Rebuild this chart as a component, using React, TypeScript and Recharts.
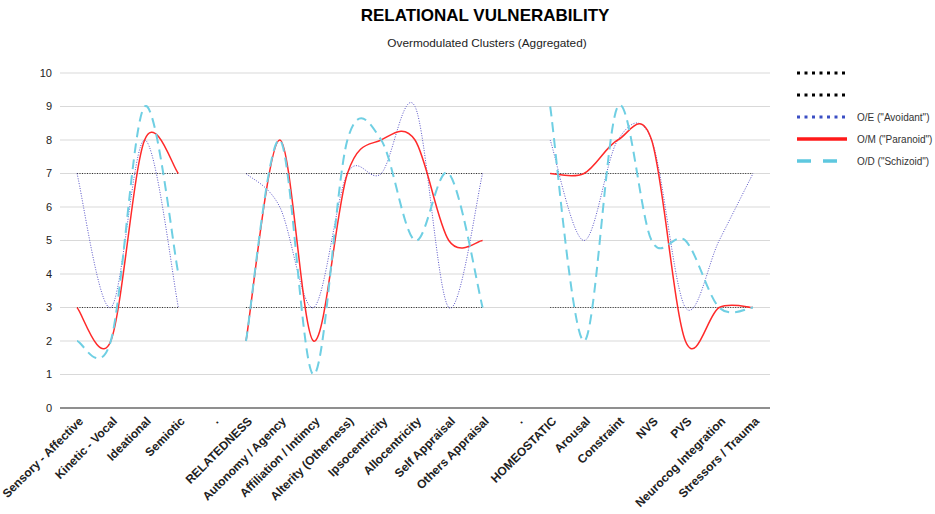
import React from 'react';
import { LineChart, Line, XAxis, YAxis, CartesianGrid, Legend } from 'recharts';

const categories = [
  'Sensory - Affective', 'Kinetic - Vocal', 'Ideational', 'Semiotic', '.',
  'RELATEDNESS', 'Autonomy / Agency', 'Affiliation / Intimcy', 'Alterity (Otherness)',
  'Ipsocentricity', 'Allocentricity', 'Self Appraisal', 'Others Appraisal', '.',
  'HOMEOSTATIC', 'Arousal', 'Constraint', 'NVS', 'PVS', 'Neurocog Integration', 'Stressors / Trauma',
];

const guideHigh = [7, 7, 7, 7, null, 7, 7, 7, 7, 7, 7, 7, 7, null, 7, 7, 7, 7, 7, 7, 7];
const guideLow = [3, 3, 3, 3, null, 3, 3, 3, 3, 3, 3, 3, 3, null, 3, 3, 3, 3, 3, 3, 3];
const avoidant = [7, 3, 8, 3, null, 7, 6, 3, 7, 7, 9, 3, 7, null, 8, 5, 8, 8, 3, 5, 7];
const paranoid = [3, 2, 8, 7, null, 2, 8, 2, 7, 8, 8, 5, 5, null, 7, 7, 8, 8, 2, 3, 3];
const schizoid = [2, 2, 9, 4, null, 2, 8, 1, 8, 8, 5, 7, 3, null, 9, 2, 9, 5, 5, 3, 3];

const yTicks = [0, 1, 2, 3, 4, 5, 6, 7, 8, 9, 10];

const data = categories.map((name, i) => ({
  name,
  hi: guideHigh[i],
  lo: guideLow[i],
  oe: avoidant[i],
  om: paranoid[i],
  od: schizoid[i],
}));

// smooth curve through the points (catmull-rom), like the sheet's "smooth" lines
const smooth: any = (context: any) => {
  let pts: number[][] = [];
  return {
    areaStart() {},
    areaEnd() {},
    lineStart() { pts = []; },
    point(x: number, y: number) { pts.push([x, y]); },
    lineEnd() {
      if (!pts.length) return;
      context.moveTo(pts[0][0], pts[0][1]);
      for (let i = 0; i < pts.length - 1; i++) {
        const p0 = pts[i - 1] || pts[i];
        const p1 = pts[i];
        const p2 = pts[i + 1];
        const p3 = pts[i + 2] || p2;
        context.bezierCurveTo(
          p1[0] + (p2[0] - p0[0]) / 6, p1[1] + (p2[1] - p0[1]) / 6,
          p2[0] - (p3[0] - p1[0]) / 6, p2[1] - (p3[1] - p1[1]) / 6,
          p2[0], p2[1],
        );
      }
    },
  };
};

const legendItems = [
  { key: 'hi', label: '', color: '#000', width: 3, dash: '3 4.5' },
  { key: 'lo', label: '', color: '#000', width: 3, dash: '3 4.5' },
  { key: 'oe', label: 'O/E ("Avoidant")', color: '#3b4fc4', width: 3, dash: '3 4.5' },
  { key: 'om', label: 'O/M ("Paranoid")', color: '#ff1a1a', width: 3.5, dash: undefined },
  { key: 'od', label: 'O/D ("Schizoid")', color: '#5ec8df', width: 3.5, dash: '14 12' },
];

const LegendBox = () => (
  <div style={{ fontFamily: 'Liberation Sans, Arial, sans-serif', fontSize: 10, color: '#333' }}>
    {legendItems.map((it) => (
      <div key={it.key} style={{ display: 'flex', alignItems: 'center', height: 22 }}>
        <svg width={56} height={8} style={{ marginRight: 6 }}>
          <line x1={2} y1={4} x2={52} y2={4} stroke={it.color} strokeWidth={it.width} strokeDasharray={it.dash} />
        </svg>
        <span>{it.label}</span>
      </div>
    ))}
  </div>
);

const XTick = (props: any) => {
  const { x, y, payload } = props;
  return (
    <g transform={`translate(${x + 4},${y + 3}) rotate(-45)`}>
      <text textAnchor="end" dy="0.35em" fontSize={12} fontWeight="bold" fill="#222"
        fontFamily="Liberation Sans, Arial, sans-serif">
        {payload.value}
      </text>
    </g>
  );
};

export default function App() {
  return (
    <div style={{ position: 'absolute', left: 0, top: 0, width: 935, height: 514, background: '#fff' }}>
      <div style={{ position: 'absolute', left: 485, top: 6, transform: 'translateX(-50%)', whiteSpace: 'nowrap',
        fontFamily: 'Liberation Sans, Arial, sans-serif', fontWeight: 'bold', fontSize: 17, color: '#000' }}>
        RELATIONAL VULNERABILITY
      </div>
      <div style={{ position: 'absolute', left: 487, top: 36, transform: 'translateX(-50%)', whiteSpace: 'nowrap',
        fontFamily: 'Liberation Sans, Arial, sans-serif', fontSize: 11.8, color: '#222' }}>
        Overmodulated Clusters (Aggregated)
      </div>
      <LineChart width={935} height={514} data={data} margin={{ top: 73, right: 25, left: 0, bottom: 6 }}>
        <CartesianGrid vertical={false} stroke="#d9d9d9" />
        <XAxis dataKey="name" interval={0} height={100} tick={<XTick />} tickLine={false}
          axisLine={{ stroke: '#333' }} padding={{ left: 17, right: 17 }} />
        <YAxis domain={[0, 10]} ticks={yTicks} width={60} tickLine={false} axisLine={false}
          tick={{ fontSize: 11, fill: '#222', fontFamily: 'Liberation Sans, Arial, sans-serif' }} />
        <Legend layout="vertical" verticalAlign="top" align="right" content={<LegendBox />}
          wrapperStyle={{ left: 795, top: 62, width: 140 }} />
        <Line dataKey="hi" name=" " type="linear" stroke="#333" strokeWidth={1} strokeDasharray="1 1.5"
          dot={false} activeDot={false} isAnimationActive={false} />
        <Line dataKey="lo" name="  " type="linear" stroke="#333" strokeWidth={1} strokeDasharray="1 1.5"
          dot={false} activeDot={false} isAnimationActive={false} />
        <Line dataKey="oe" name='O/E ("Avoidant")' type={smooth} stroke="#5a55c8" strokeWidth={1} strokeDasharray="1 1.5"
          dot={false} activeDot={false} isAnimationActive={false} />
        <Line dataKey="om" name='O/M ("Paranoid")' type={smooth} stroke="#ff2a2a" strokeWidth={1.5}
          dot={false} activeDot={false} isAnimationActive={false} />
        <Line dataKey="od" name='O/D ("Schizoid")' type={smooth} stroke="#6fcfe3" strokeWidth={2} strokeDasharray="10 6"
          dot={false} activeDot={false} isAnimationActive={false} />
      </LineChart>
    </div>
  );
}
